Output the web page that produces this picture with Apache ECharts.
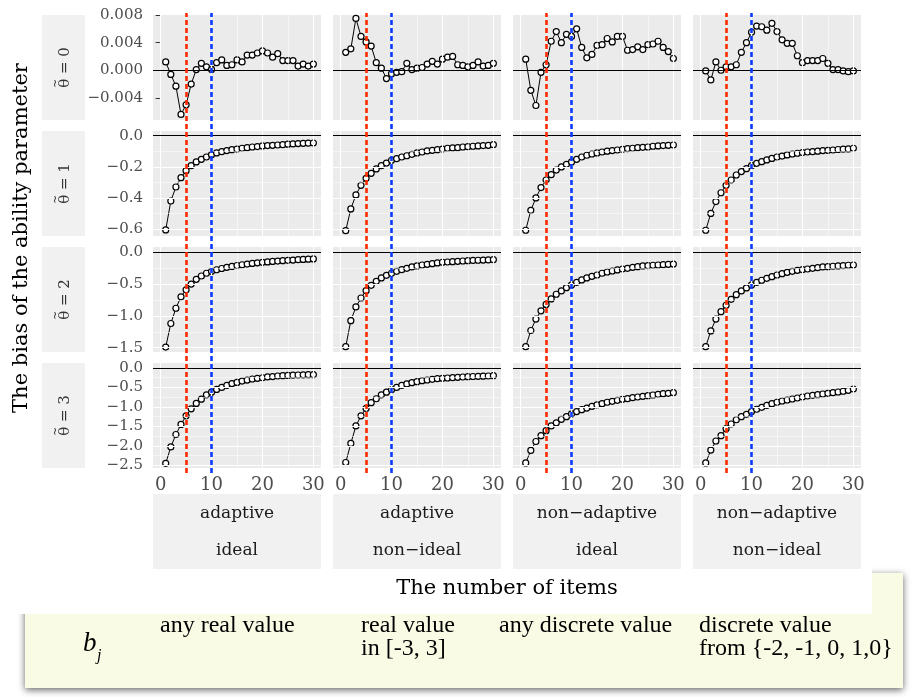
<!DOCTYPE html>
<html>
<head>
<meta charset="utf-8">
<script src="https://cdn.jsdelivr.net/npm/echarts@6/dist/echarts.min.js"></script>
<style>
  html, body { margin: 0; padding: 0; background: #fff; }
  #container { width: 912px; height: 697px; }
</style>
</head>
<body>
<div id="container"></div>
<script type="text/javascript">

// number of items (x)
var items = [1, 2, 3, 4, 5, 6, 7, 8, 9, 10, 11, 12, 13, 14, 15, 16, 17, 18, 19, 20, 21, 22, 23, 24, 25, 26, 27, 28, 29, 30];

// facet labels
var rowLabels = ['\u03B8\u0303 = 0', '\u03B8\u0303 = 1', '\u03B8\u0303 = 2', '\u03B8\u0303 = 3'];
var colLabelTop = ['adaptive', 'adaptive', 'non\u2212adaptive', 'non\u2212adaptive'];
var colLabelBottom = ['ideal', 'non\u2212ideal', 'ideal', 'non\u2212ideal'];

// bias of the ability parameter, theta = 0
var t0_adIdeal = [0.0012, -0.0006, -0.0023, -0.0064, -0.0050, -0.0020, 0.0001, 0.0010, 0.0005, 0.0001, 0.0011, 0.0015, 0.0007, 0.0008, 0.0015, 0.0012, 0.0022, 0.0022, 0.0025, 0.0028, 0.0025, 0.0019, 0.0024, 0.0014, 0.0014, 0.0014, 0.0006, 0.0009, 0.0006, 0.0009];
var t0_adNonIdeal = [0.0026, 0.0031, 0.0075, 0.0049, 0.0041, 0.0035, 0.0011, 0.0003, -0.0012, -0.0005, -0.0003, -0.0002, 0.0010, 0.0001, 0.0003, 0.0004, 0.0009, 0.0013, 0.0009, 0.0016, 0.0019, 0.0020, 0.0008, 0.0007, 0.0005, 0.0007, 0.0012, 0.0006, 0.0007, 0.0010];
var t0_naIdeal = [0.0016, -0.0029, -0.0051, -0.0003, 0.0008, 0.0042, 0.0056, 0.0040, 0.0052, 0.0049, 0.0060, 0.0033, 0.0018, 0.0023, 0.0036, 0.0037, 0.0046, 0.0041, 0.0049, 0.0049, 0.0029, 0.0030, 0.0034, 0.0030, 0.0037, 0.0038, 0.0042, 0.0033, 0.0027, 0.0017];
var t0_naNonIdeal = [-0.0001, -0.0014, 0.0012, 0.0000, 0.0005, 0.0005, 0.0008, 0.0026, 0.0040, 0.0055, 0.0064, 0.0063, 0.0058, 0.0068, 0.0056, 0.0044, 0.0039, 0.0039, 0.0021, 0.0011, 0.0014, 0.0014, 0.0014, 0.0017, 0.0010, 0.0001, 0.0001, -0.0001, -0.0002, -0.0001];

// theta = 1
var t1_adIdeal = [-0.606, -0.42, -0.33, -0.27, -0.225, -0.193, -0.169, -0.152, -0.137, -0.122, -0.111, -0.103, -0.096, -0.090, -0.086, -0.081, -0.077, -0.073, -0.070, -0.066, -0.064, -0.062, -0.060, -0.058, -0.055, -0.053, -0.051, -0.049, -0.048, -0.047];
var t1_adNonIdeal = [-0.611, -0.471, -0.381, -0.319, -0.274, -0.242, -0.214, -0.193, -0.176, -0.158, -0.148, -0.137, -0.129, -0.120, -0.111, -0.105, -0.098, -0.094, -0.090, -0.086, -0.081, -0.079, -0.077, -0.073, -0.071, -0.068, -0.066, -0.064, -0.062, -0.058];
var t1_naIdeal = [-0.608, -0.48, -0.40, -0.334, -0.285, -0.251, -0.221, -0.201, -0.184, -0.169, -0.152, -0.137, -0.126, -0.118, -0.111, -0.105, -0.100, -0.096, -0.092, -0.088, -0.083, -0.081, -0.077, -0.075, -0.073, -0.068, -0.066, -0.064, -0.062, -0.060];
var t1_naNonIdeal = [-0.608, -0.50, -0.424, -0.367, -0.319, -0.285, -0.253, -0.231, -0.212, -0.193, -0.178, -0.167, -0.156, -0.146, -0.137, -0.131, -0.124, -0.118, -0.113, -0.109, -0.105, -0.103, -0.100, -0.096, -0.094, -0.092, -0.089, -0.087, -0.085, -0.081];

// theta = 2
var t2_adIdeal = [-1.49, -1.12, -0.88, -0.70, -0.59, -0.50, -0.425, -0.373, -0.33, -0.30, -0.275, -0.255, -0.237, -0.222, -0.208, -0.196, -0.185, -0.175, -0.166, -0.158, -0.151, -0.144, -0.138, -0.132, -0.127, -0.122, -0.117, -0.112, -0.108, -0.104];
var t2_adNonIdeal = [-1.484, -1.075, -0.86, -0.719, -0.604, -0.519, -0.456, -0.404, -0.362, -0.33, -0.299, -0.274, -0.252, -0.231, -0.215, -0.20, -0.189, -0.179, -0.168, -0.157, -0.153, -0.148, -0.143, -0.137, -0.132, -0.128, -0.125, -0.122, -0.120, -0.117];
var t2_naIdeal = [-1.484, -1.23, -1.05, -0.92, -0.82, -0.734, -0.66, -0.608, -0.556, -0.514, -0.472, -0.435, -0.404, -0.378, -0.357, -0.33, -0.31, -0.294, -0.278, -0.263, -0.252, -0.236, -0.226, -0.215, -0.21, -0.204, -0.20, -0.195, -0.189, -0.186];
var t2_naNonIdeal = [-1.484, -1.237, -1.05, -0.934, -0.833, -0.739, -0.667, -0.608, -0.561, -0.514, -0.472, -0.44, -0.409, -0.383, -0.357, -0.336, -0.315, -0.299, -0.283, -0.273, -0.263, -0.252, -0.242, -0.231, -0.226, -0.22, -0.215, -0.21, -0.204, -0.20];

// theta = 3
var t3_adIdeal = [-2.45, -2.03, -1.71, -1.45, -1.23, -1.05, -0.91, -0.80, -0.69, -0.62, -0.55, -0.50, -0.445, -0.40, -0.37, -0.335, -0.31, -0.283, -0.265, -0.25, -0.23, -0.22, -0.205, -0.197, -0.19, -0.185, -0.18, -0.175, -0.172, -0.17];
var t3_adNonIdeal = [-2.43, -1.94, -1.49, -1.23, -1.04, -0.89, -0.79, -0.69, -0.62, -0.56, -0.50, -0.445, -0.41, -0.377, -0.35, -0.326, -0.308, -0.29, -0.274, -0.265, -0.257, -0.248, -0.24, -0.231, -0.222, -0.218, -0.214, -0.21, -0.205, -0.197];
var t3_naIdeal = [-2.44, -2.12, -1.89, -1.74, -1.61, -1.49, -1.41, -1.32, -1.25, -1.18, -1.12, -1.07, -1.03, -0.985, -0.95, -0.917, -0.88, -0.857, -0.83, -0.805, -0.788, -0.763, -0.745, -0.728, -0.71, -0.694, -0.677, -0.66, -0.651, -0.634];
var t3_naNonIdeal = [-2.44, -2.11, -1.877, -1.74, -1.56, -1.44, -1.33, -1.25, -1.19, -1.12, -1.06, -1.01, -0.96, -0.917, -0.88, -0.848, -0.823, -0.797, -0.771, -0.745, -0.72, -0.703, -0.685, -0.668, -0.651, -0.634, -0.617, -0.597, -0.574, -0.54];

// axes
var xTicks = [0, 10, 20, 30];
var yTicks0 = [-0.004, 0, 0.004, 0.008];
var yTicks1 = [-0.6, -0.4, -0.2, 0];
var yTicks2 = [-1.5, -1.0, -0.5, 0];
var yTicks3 = [-2.5, -2.0, -1.5, -1.0, -0.5, 0];
var yDecimals = [3, 1, 1, 1];
var yMin = [-0.0072, -0.645, -1.568, -2.571];
var yMax = [0.0080, 0.030, 0.083, 0.129];

// reference lines (number of items)
var refLines = [5, 10];
var refColors = ['#ff2a00', '#0a3cff'];

// table under the plot
var tableCells = [
  ['any real value'],
  ['real value', 'in [-3, 3]'],
  ['any discrete value'],
  ['discrete value', 'from {-2, -1, 0, 1,0}']
];

var panels = [
  [t0_adIdeal, t0_adNonIdeal, t0_naIdeal, t0_naNonIdeal],
  [t1_adIdeal, t1_adNonIdeal, t1_naIdeal, t1_naNonIdeal],
  [t2_adIdeal, t2_adNonIdeal, t2_naIdeal, t2_naNonIdeal],
  [t3_adIdeal, t3_adNonIdeal, t3_naIdeal, t3_naNonIdeal]
];
var yTicks = [yTicks0, yTicks1, yTicks2, yTicks3];

var serif = "'DejaVu Serif', serif";
var panelLeft = [153, 333, 513, 693];
var panelTop = [15, 131, 247, 363];
var panelW = 168, panelH = 105;
var xMin = -1.5, xMax = 31.5;

function minorOf(ticks, lo, hi) {
  var step = ticks[1] - ticks[0], out = [];
  for (var i = -1; i < ticks.length; i++) {
    var m = ticks[0] + step * (i + 0.5);
    if (m > lo && m < hi) out.push(m);
  }
  return out;
}

var dom = document.getElementById("container");
var myChart = echarts.init(dom);

var grids = [], xAxes = [], yAxes = [], series = [], graphics = [];

for (var r = 0; r < 4; r++) {
  for (var c = 0; c < 4; c++) {
    var g = r * 4 + c;
    grids.push({
      left: panelLeft[c], top: panelTop[r], width: panelW, height: panelH,
      show: true, backgroundColor: '#EBEBEB', borderWidth: 0
    });
    xAxes.push({
      type: 'value', gridIndex: g, min: xMin, max: xMax,
      axisLine: { show: false }, splitLine: { show: false },
      axisTick: { show: r === 3, customValues: xTicks, length: 4, lineStyle: { color: '#333' } },
      axisLabel: { show: r === 3, customValues: xTicks, margin: 8, fontFamily: serif, fontSize: 18, color: '#4D4D4D' }
    });
    (function (dec) {
      yAxes.push({
        type: 'value', gridIndex: g, min: yMin[r], max: yMax[r],
        axisLine: { show: false }, splitLine: { show: false },
        axisTick: { show: c === 0, customValues: yTicks[r], length: 5, lineStyle: { color: '#333' } },
        axisLabel: {
          show: c === 0, customValues: yTicks[r], margin: 10,
          fontFamily: serif, fontSize: 15, color: '#4D4D4D',
          formatter: function (v) { return Number(v).toFixed(dec).replace('-', '\u2212'); }
        }
      });
    })(yDecimals[r]);

    // panel grid lines
    var gl = [];
    xTicks.forEach(function (v) { gl.push({ xAxis: v, lineStyle: { width: 1.1 } }); });
    minorOf(xTicks, xMin, xMax).forEach(function (v) { gl.push({ xAxis: v, lineStyle: { width: 0.5 } }); });
    yTicks[r].forEach(function (v) { gl.push({ yAxis: v, lineStyle: { width: 1.1 } }); });
    minorOf(yTicks[r], yMin[r], yMax[r]).forEach(function (v) { gl.push({ yAxis: v, lineStyle: { width: 0.5 } }); });
    series.push({
      type: 'line', xAxisIndex: g, yAxisIndex: g, data: [], z: 1, silent: true,
      markLine: {
        silent: true, symbol: ['none', 'none'], label: { show: false },
        lineStyle: { color: '#ffffff', type: 'solid' }, data: gl
      }
    });

    var pts = items.map(function (n, i) { return [n, panels[r][c][i]]; });
    series.push({
      type: 'line', xAxisIndex: g, yAxisIndex: g, data: pts, z: 3,
      symbol: 'circle', symbolSize: 6,
      itemStyle: { color: '#ffffff', borderColor: '#000000', borderWidth: 1.2 },
      lineStyle: { color: '#000000', width: 1 },
      markLine: {
        silent: true, symbol: ['none', 'none'], label: { show: false },
        lineStyle: { color: '#000000', width: 1, type: 'solid' },
        data: [{ yAxis: 0 }]
      }
    });
  }
}

// dashed reference lines run through every row of a column
for (var c = 0; c < 4; c++) {
  var g = 16 + c;
  grids.push({ left: panelLeft[c], top: 13, width: panelW, height: 460, show: false });
  xAxes.push({ type: 'value', gridIndex: g, min: xMin, max: xMax, show: false });
  yAxes.push({ type: 'value', gridIndex: g, min: 0, max: 1, show: false });
  series.push({
    type: 'line', xAxisIndex: g, yAxisIndex: g, data: [], z: 5, silent: true,
    markLine: {
      silent: true, symbol: ['none', 'none'], label: { show: false },
      data: refLines.map(function (v, i) {
        return { xAxis: v, lineStyle: { color: refColors[i], width: 2.6, type: [5, 3] } };
      })
    }
  });
}

// strips (the tilde over theta is drawn as its own small glyph)
var stripFont = '15px ' + serif;
var measure = document.createElement('canvas').getContext('2d');
measure.font = "15px 'DejaVu Serif'";
for (var r = 0; r < 4; r++) {
  var base = rowLabels[r].replace('\u0303', '');
  var w = measure.measureText(base).width;
  var wt = measure.measureText('\u03B8').width;
  graphics.push({ type: 'rect', shape: { x: 42, y: panelTop[r], width: 43, height: panelH }, style: { fill: '#F1F1F1' } });
  graphics.push({
    type: 'group', x: 64, y: panelTop[r] + panelH / 2, rotation: Math.PI / 2,
    children: [
      { type: 'text', x: 0, y: 1, style: { text: base, font: stripFont, fill: '#333333', textAlign: 'center', textVerticalAlign: 'middle' } },
      { type: 'text', x: -w / 2 + wt / 2, y: -8, style: { text: '~', font: '11px ' + serif, fill: '#333333', textAlign: 'center', textVerticalAlign: 'middle' } }
    ]
  });
}
for (var c = 0; c < 4; c++) {
  graphics.push({ type: 'rect', shape: { x: panelLeft[c], y: 494, width: panelW, height: 75 }, style: { fill: '#F1F1F1' } });
  graphics.push({
    type: 'text', x: panelLeft[c] + panelW / 2, y: 514,
    style: { text: colLabelTop[c], font: '17px ' + serif, fill: '#1A1A1A', textAlign: 'center', textVerticalAlign: 'middle' }
  });
  graphics.push({
    type: 'text', x: panelLeft[c] + panelW / 2, y: 551,
    style: { text: colLabelBottom[c], font: '17px ' + serif, fill: '#1A1A1A', textAlign: 'center', textVerticalAlign: 'middle' }
  });
}

// axis titles
graphics.push({
  type: 'text', x: 22, y: 238, rotation: Math.PI / 2,
  style: { text: 'The bias of the ability parameter', font: '21px ' + serif, fill: '#000', textAlign: 'center', textVerticalAlign: 'middle' }
});
graphics.push({
  type: 'text', x: 507, y: 589,
  style: { text: 'The number of items', font: '21px ' + serif, fill: '#000', textAlign: 'center', textVerticalAlign: 'middle' }
});

// table box behind the figure
graphics.push({
  type: 'rect', z: -2, shape: { x: 25, y: 573, width: 878, height: 115 },
  style: { fill: '#FAFBE5', shadowBlur: 7, shadowColor: 'rgba(0,0,0,0.6)', shadowOffsetY: 2 }
});
graphics.push({ type: 'rect', z: -1, shape: { x: 0, y: 0, width: 872, height: 614 }, style: { fill: '#ffffff' } });

var times = "'Liberation Serif', 'Times New Roman', serif";
graphics.push({ type: 'text', x: 83, y: 644, style: { text: 'b', font: 'italic 27px ' + times, fill: '#000', textVerticalAlign: 'middle' } });
graphics.push({ type: 'text', x: 97, y: 656, style: { text: 'j', font: 'italic 16px ' + times, fill: '#000', textVerticalAlign: 'middle' } });
var cellX = [160, 361, 499, 699];
tableCells.forEach(function (lines, i) {
  lines.forEach(function (t, k) {
    graphics.push({
      type: 'text', x: cellX[i], y: 626 + k * 23,
      style: { text: t, font: '24px ' + times, fill: '#000', textVerticalAlign: 'middle' }
    });
  });
});

option = {
  animation: false,
  backgroundColor: '#ffffff',
  grid: grids,
  xAxis: xAxes,
  yAxis: yAxes,
  series: series,
  graphic: graphics
};
if (option && typeof option === "object") {
  myChart.setOption(option, true);
}
</script>
</body>
</html>
